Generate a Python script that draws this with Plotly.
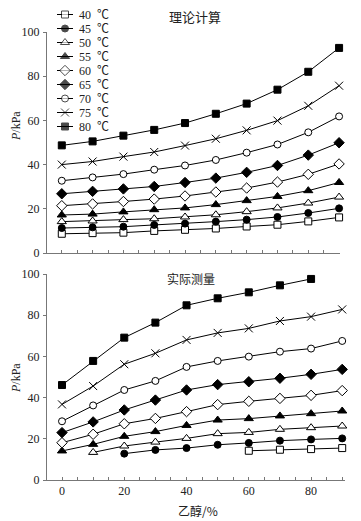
import plotly.graph_objects as go

ethanol = [0, 10, 20, 30, 40, 50, 60, 70, 80, 90]
temps = ["40", "45", "50", "55", "60", "65", "70", "75", "80"]

calc_40 = [8.7, 9.0, 9.2, 10.0, 10.5, 11.1, 12.0, 12.8, 14.3, 16.1]
calc_45 = [11.3, 11.6, 11.9, 12.7, 13.3, 14.2, 15.1, 16.3, 18.1, 20.2]
calc_50 = [14.2, 14.5, 15.1, 15.5, 16.3, 17.3, 18.7, 20.4, 22.6, 25.3]
calc_55 = [17.2, 17.6, 18.6, 19.6, 20.4, 21.9, 23.7, 25.6, 28.2, 31.9]
calc_60 = [21.4, 22.2, 23.3, 24.4, 25.8, 27.6, 29.4, 32.1, 35.6, 40.3]
calc_65 = [26.8, 27.9, 29.0, 30.1, 31.9, 33.9, 36.5, 39.6, 44.3, 49.9]
calc_70 = [32.7, 34.2, 35.7, 37.7, 39.6, 42.1, 45.4, 49.1, 54.6, 61.8]
calc_75 = [40.0, 41.4, 43.6, 45.7, 48.6, 51.7, 55.5, 59.9, 66.6, 75.7]
calc_80 = [48.7, 50.5, 53.1, 55.7, 58.8, 63.0, 67.6, 73.9, 82.0, 92.8]

meas_40 = [None, None, None, None, None, None, 14.2, 14.7, 15.0, 15.5]
meas_45 = [None, None, 12.8, 14.6, 15.5, 17.1, 18.0, 19.1, 19.7, 20.2]
meas_50 = [None, 13.4, 16.5, 18.4, 20.2, 22.5, 23.1, 24.6, 25.4, 26.2]
meas_55 = [14.1, 17.3, 21.2, 23.5, 26.5, 29.1, 29.8, 31.1, 32.2, 33.5]
meas_60 = [18.1, 22.2, 27.3, 29.9, 33.2, 36.6, 38.2, 39.6, 41.1, 43.4]
meas_65 = [23.0, 28.2, 34.0, 38.8, 43.7, 46.3, 47.7, 49.4, 51.3, 53.7]
meas_70 = [28.5, 36.2, 43.7, 48.1, 54.9, 57.8, 59.9, 62.3, 63.8, 67.5]
meas_75 = [36.7, 45.6, 56.2, 61.5, 68.0, 71.4, 73.6, 77.2, 79.3, 82.8]
meas_80 = [46.1, 57.8, 69.1, 76.4, 84.8, 88.2, 91.1, 94.5, 97.6, None]

calc = [calc_40, calc_45, calc_50, calc_55, calc_60, calc_65, calc_70, calc_75, calc_80]
meas = [meas_40, meas_45, meas_50, meas_55, meas_60, meas_65, meas_70, meas_75, meas_80]

y_ticks = [0, 20, 40, 60, 80, 100]
x_ticks = [0, 20, 40, 60, 80]

# marker styles (symbol, fill, size)
styles = [
    ("square", "white", 7),
    ("circle", "black", 7),
    ("triangle-up", "white", 8),
    ("triangle-up", "black", 8),
    ("diamond", "white", 8),
    ("diamond", "black", 8),
    ("circle", "white", 7),
    ("x-thin-open", "black", 8),
    ("square", "black", 7),
]

# the page shows the figure offset by the body margin (8 px)
OFF = 8
W, H = 361 - OFF, 521 - OFF
ML, MR, MT, MB = 47 - OFF, 16, 0, 41
PW = W - ML - MR
PH = H - MT - MB


def px(x):
    """page x pixel -> paper fraction"""
    return (x - OFF - ML) / PW


def py(y):
    """page y pixel -> paper fraction"""
    return (H - MB - (y - OFF)) / PH


FONT = "Liberation Serif, Times New Roman, Noto Sans CJK SC, serif"
CJK = "Noto Sans CJK SC, Liberation Serif, serif"
AXC = "#777777"
TXT = "#222222"

fig = go.Figure()

for i, t in enumerate(temps):
    sym, fill, sz = styles[i]
    mk = dict(symbol=sym, color=fill, size=sz, line=dict(color="black", width=1))
    fig.add_trace(go.Scatter(x=ethanol, y=calc[i], mode="lines+markers",
                             line=dict(color="black", width=1), marker=mk,
                             showlegend=False, xaxis="x", yaxis="y", cliponaxis=False))
    fig.add_trace(go.Scatter(x=ethanol, y=meas[i], mode="lines+markers",
                             line=dict(color="black", width=1), marker=mk,
                             showlegend=False, xaxis="x2", yaxis="y2",
                             connectgaps=False, cliponaxis=False))

# manual legend on a transparent overlay axis measured in page pixels
leg_y0, leg_dy = 14.5, 14.0
for i, t in enumerate(temps):
    sym, fill, sz = styles[i]
    yy = leg_y0 + leg_dy * i
    fig.add_trace(go.Scatter(x=[57, 65, 73], y=[yy, yy, yy], mode="lines+markers",
                             line=dict(color="black", width=1),
                             marker=dict(symbol=sym, color=fill, size=[0, sz, 0],
                                         line=dict(color="black", width=[0, 1, 0])),
                             showlegend=False, xaxis="x3", yaxis="y3",
                             hoverinfo="skip", cliponaxis=False))
    fig.add_annotation(x=77, y=yy, xref="x3", yref="y3", text=t + "  ℃",
                       showarrow=False, xanchor="left", yanchor="middle",
                       font=dict(family=FONT, size=12, color=TXT))

common_x = dict(showline=True, linecolor=AXC, linewidth=1, zeroline=False,
                showgrid=False, ticks="inside", ticklen=3, tickcolor=AXC,
                tickvals=x_ticks, mirror=False, automargin=False,
                minor=dict(dtick=5, tick0=0, ticks="inside", ticklen=3, tickcolor=AXC),
                tickfont=dict(family=FONT, size=12, color=TXT))
common_y = dict(showline=True, linecolor=AXC, linewidth=1, zeroline=False,
                showgrid=False, ticks="outside", ticklen=3, tickcolor=AXC,
                tickvals=y_ticks, range=[0, 100], ticklabelstandoff=1,
                automargin=False,
                tickfont=dict(family=FONT, size=12, color=TXT))

fig.update_layout(
    template="none",
    width=W, height=H,
    margin=dict(l=ML, r=MR, t=MT, b=MB),
    font=dict(family=FONT, color=TXT),
    paper_bgcolor="white", plot_bgcolor="rgba(0,0,0,0)",
    xaxis=dict(common_x, domain=[0, px(340)], range=[-4.8, 90.3],
               anchor="y", showticklabels=False),
    yaxis=dict(common_y, domain=[py(253), py(32)], anchor="x"),
    xaxis2=dict(common_x, domain=[0, 1], range=[-4.82, 90.9], anchor="y2",
                showticklabels=True),
    yaxis2=dict(common_y, domain=[0, py(274)], anchor="x2"),
    xaxis3=dict(domain=[0, 1], range=[47, 345], visible=False, anchor="y3"),
    yaxis3=dict(domain=[py(135), 1], range=[135, OFF], visible=False, anchor="x3"),
)

# titles (explicit anchors so that paper positions are exact)
def note(x, y, text, font, angle=0):
    fig.add_annotation(x=px(x), y=py(y), xref="paper", yref="paper", text=text,
                       showarrow=False, xanchor="center", yanchor="middle",
                       textangle=angle, font=font)


note(195, 17, "理论计算", dict(family=CJK, size=13, color=TXT))
note(191, 278, "实际测量", dict(family=CJK, size=12, color=TXT))
note(16, 126, "<i>P</i>/kPa", dict(family=FONT, size=12, color=TXT), -90)
note(16, 378, "<i>P</i>/kPa", dict(family=FONT, size=12, color=TXT), -90)
note(198, 510, "乙醇/%", dict(family=CJK, size=12, color=TXT))

fig.write_html("out.html")
